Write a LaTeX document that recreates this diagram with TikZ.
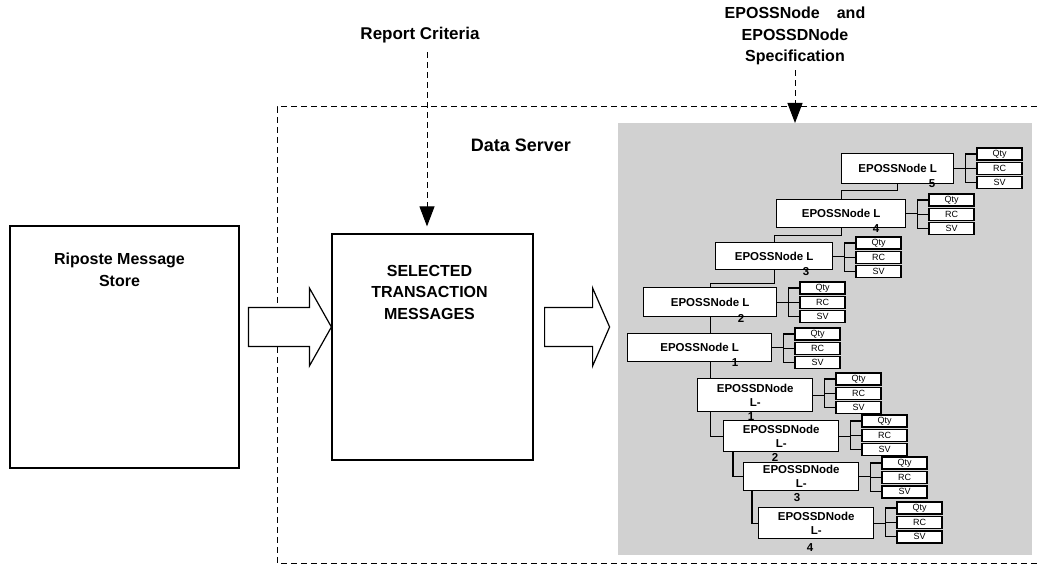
\documentclass[tikz,border=0pt]{standalone}
\usepackage{fontspec}
\setmainfont{Liberation Sans}
\usetikzlibrary{positioning,calc,arrows.meta}

\tikzset{
  bigbox/.style={draw, line width=1.2pt, fill=white, inner sep=0pt},
  bigtext/.style={font=\bfseries\fontsize{16}{21.5}\selectfont, align=center},
  epossbox/.style={draw, line width=1.4pt, fill=white, inner sep=0pt, anchor=north west,
    font=\bfseries\fontsize{11.5}{14}\selectfont, align=center},
  field/.style={draw, line width=1.4pt, fill=white, minimum width=45pt, minimum height=12pt,
    inner sep=0pt, font=\fontsize{9}{9}\selectfont},
  num/.style={font=\bfseries\fontsize{11.5}{14}\selectfont, inner sep=0pt},
  link/.style={line width=1.3pt},
  feed/.style={line width=1pt, dash pattern=on 6pt off 4pt, -{Triangle[width=15pt,length=20pt]}},
  boundary/.style={line width=1pt, dash pattern=on 6pt off 4pt},
  fatarrow/.style={draw, line width=1.2pt, fill=white, line join=miter},
}

\begin{document}
\begin{tikzpicture}[x=1pt, y=-1pt]
  \useasboundingbox (0,0) rectangle (1037,569);

  % data server boundary
  \draw[boundary] (1037,107) -- (277,107) -- (277,563) -- (1037,563);
  \node[font=\bfseries\fontsize{18}{21}\selectfont] (ds) at (521,145) {Data Server};

  % message stores
  \node[bigbox, minimum width=229pt, minimum height=242pt] (rms) at (124.5,347) {};
  \node[bigtext] (rmstxt) at ($(rms.north)+(-5,44.5)$) {Riposte Message\\Store};
  \node[bigbox, minimum width=201pt, minimum height=226pt] (sel) at (432.5,347) {};
  \node[bigtext] (seltxt) at ($(sel.north)+(-3,59)$) {SELECTED\\TRANSACTION\\MESSAGES};

  % inputs
  \node[bigtext, font=\bfseries\fontsize{17}{21.5}\selectfont] (crit) at (420,35) {Report Criteria};
  \draw[feed, shorten <=6pt, shorten >=7pt] ([xshift=7pt]crit.south) -- ([xshift=7pt]crit.south |- sel.north);

  % specification area
  \node[fill=black!18, inner sep=0pt, minimum width=414pt, minimum height=432pt, anchor=north west] (spec) at (618,123) {};
  \node[bigtext] (spectxt) at (795,36) {EPOSSNode\hspace{17pt}and\\EPOSSDNode\\Specification};
  \draw[feed, shorten <=2pt] (spectxt.south) -- (spectxt.south |- spec.north);

  % block arrows
  \coordinate (t1) at ([yshift=20pt]sel.west);
  \draw[fatarrow] (t1) -- ++(-22,-39) -- ++(0,19.5) -- ++(-61,0) -- ++(0,39) -- ++(61,0) -- ++(0,19.5) -- cycle;
  \coordinate (t2) at ([xshift=76pt,yshift=20pt]sel.east);
  \draw[fatarrow] (t2) -- ++(-17,-39) -- ++(0,19.5) -- ++(-48,0) -- ++(0,39) -- ++(48,0) -- ++(0,19.5) -- cycle;

  % EPOSS nodes
  \node[epossbox, minimum width=112pt, minimum height=30pt] (l5) at (841,153) {EPOSSNode L};
  \node[epossbox, minimum width=129pt, minimum height=28pt] (l4) at (776,199) {EPOSSNode L};
  \node[epossbox, minimum width=117pt, minimum height=27pt] (l3) at (715,242) {EPOSSNode L};
  \node[epossbox, minimum width=133pt, minimum height=29pt] (l2) at (643,287) {EPOSSNode L};
  \node[epossbox, minimum width=144pt, minimum height=28pt] (l1) at (627,333) {EPOSSNode L};
  \node[epossbox, minimum width=115pt, minimum height=33pt] (d1) at (697,378) {EPOSSDNode\\L-};
  \node[epossbox, minimum width=115pt, minimum height=31pt] (d2) at (723,420) {EPOSSDNode\\L-};
  \node[epossbox, minimum width=115pt, minimum height=28pt] (d3) at (743,462) {EPOSSDNode\\L-};
  \node[epossbox, minimum width=115pt, minimum height=31pt] (d4) at (758,507) {EPOSSDNode\\L-};

  \node[num] (n5) at (932,184) {5};
  \node[num] (n4) at (876,229) {4};
  \node[num] (n3) at (806,272) {3};
  \node[num] (n2) at (741,318) {2};
  \node[num] (n1) at (735,363) {1};
  \node[num] (m1) at (751,417) {1};
  \node[num] (m2) at (775,457) {2};
  \node[num] (m3) at (797,498) {3};
  \node[num] (m4) at (810,548) {4};

  % chain
  \draw[link] (l5.south) -- ++(0,6) -| (l4.north);
  \draw[link] (l4.south) -- ++(0,7) -| (l3.north);
  \draw[link] (l3.south) -- ++(0,13) -| (l2.north);
  \draw[link] (l2.south) -- (l2.south |- l1.north);
  \draw[link] (l2.south |- l1.south) -- (l2.south |- d1.north);
  \draw[link] (l2.south |- d1.south) |- (d2.west);
  \draw[link] ([xshift=10pt]d2.south west) |- (d3.west);
  \draw[link] ([xshift=9pt]d3.south west) |- (d4.west);

  % fields of each node
  \foreach \n in {l5,l4,l3,l2,l1,d1,d2,d3,d4}{
    \node[field, anchor=west] (\n-q) at ($(\n.north east)+(22,1)$) {Qty};
    \node[field, below=1pt of \n-q] (\n-r) {RC};
    \node[field, below=1pt of \n-r] (\n-s) {SV};
    \path ($(\n.east)!0.5!(\n-r.west)$) coordinate (\n-k);
    \draw[link] (\n.east) -- (\n.east -| \n-k);
    \draw[link] (\n-q.west) -- (\n-q.west -| \n-k) -- (\n-s.west -| \n-k) -- (\n-s.west);
    \draw[link] (\n-r.west) -- (\n-r.west -| \n-k);
  }
\end{tikzpicture}
\end{document}
